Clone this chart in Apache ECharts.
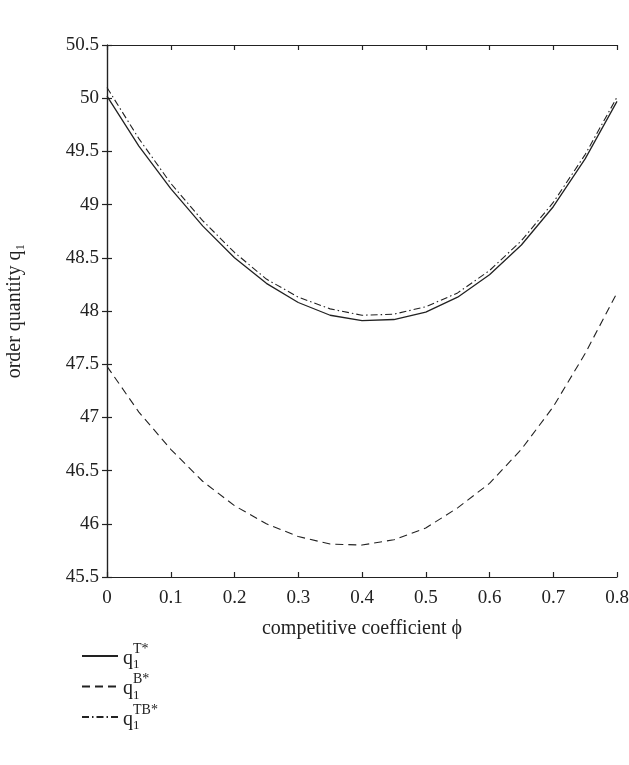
<!DOCTYPE html>
<html><head><meta charset="utf-8">
<script src="https://cdn.jsdelivr.net/npm/echarts@6/dist/echarts.min.js"></script>
<style>html,body{margin:0;padding:0;background:#fff}#c{width:629px;height:765px}</style>
</head><body><div id="c"></div>
<script>
const phi = [0,0.05,0.1,0.15,0.2,0.25,0.3,0.35,0.4,0.45,0.5,0.55,0.6,0.65,0.7,0.75,0.8];
const qT  = [50.02,49.55,49.15,48.8,48.5,48.26,48.08,47.96,47.91,47.92,47.99,48.13,48.34,48.62,48.98,49.43,49.97];
const qB  = [47.48,47.05,46.7,46.4,46.17,46.0,45.88,45.81,45.8,45.85,45.96,46.15,46.38,46.7,47.1,47.6,48.17];
const qTB = [50.1,49.62,49.2,48.85,48.55,48.3,48.13,48.02,47.96,47.97,48.04,48.17,48.38,48.66,49.02,49.47,50.01];
const seriesNames = ['T*','B*','TB*'];
const xTicks = {min:0,max:0.8,interval:0.1};
const yTicks = {min:45.5,max:50.5,interval:0.5};

const font = '"Liberation Serif","DejaVu Serif",serif';
const col = '#222';
const pairs = a => phi.map((x,i)=>[x,a[i]]);
const chart = echarts.init(document.getElementById('c'));
const axisCommon = {
  axisLine:{show:true,lineStyle:{color:col,width:1.2}},
  axisTick:{show:true,inside:true,length:5,lineStyle:{color:col,width:1.2}},
  splitLine:{show:false}
};
chart.setOption({
  animation:false,
  backgroundColor:'#fff',
  grid:{left:107,right:12,top:45,bottom:188,containLabel:false,outerBoundsMode:'none'},
  legend:{
    orient:'vertical',left:76,top:637,itemWidth:36,itemHeight:12,itemGap:1,
    data:seriesNames,
    itemStyle:{opacity:0},
    textStyle:{fontFamily:font,color:col,fontSize:19,
      rich:{q:{fontFamily:font,fontSize:20,color:col,lineHeight:14,verticalAlign:'bottom'},
            s:{fontFamily:font,fontSize:13,color:col,lineHeight:14,verticalAlign:'bottom',padding:[0,0,-3,0]},
            p:{fontFamily:font,fontSize:14,color:col,lineHeight:11,padding:[0,0,0,10]}}},
    formatter: n => '{p|' + n + '}\n{q|q}{s|1}'
  },
  xAxis:[
    Object.assign({type:'value',position:'bottom',min:xTicks.min,max:xTicks.max,interval:xTicks.interval,
      name:'competitive coefficient ϕ',nameLocation:'middle',nameGap:42,
      nameTextStyle:{fontFamily:font,fontSize:20,color:col},
      axisLabel:{fontFamily:font,fontSize:19,color:col,margin:12}},axisCommon),
    Object.assign({type:'value',position:'top',min:xTicks.min,max:xTicks.max,interval:xTicks.interval,
      axisLabel:{show:false}},axisCommon)
  ],
  yAxis:[
    Object.assign({type:'value',position:'left',min:yTicks.min,max:yTicks.max,interval:yTicks.interval,
      name:'order quantity q₁',nameLocation:'middle',nameGap:82,nameRotate:90,
      nameTextStyle:{fontFamily:font,fontSize:20,color:col},
      axisLabel:{fontFamily:font,fontSize:19,color:col,margin:8}},axisCommon),
    Object.assign({type:'value',position:'right',min:yTicks.min,max:yTicks.max,interval:yTicks.interval,
      axisLabel:{show:false}},axisCommon)
  ],
  series:[
    {name:'T*',type:'line',data:pairs(qT),showSymbol:false,symbol:'none',
      lineStyle:{color:col,width:1.3,type:'solid'},itemStyle:{color:col}},
    {name:'B*',type:'line',data:pairs(qB),showSymbol:false,symbol:'none',
      lineStyle:{color:col,width:1.1,type:[8,5]},itemStyle:{color:col}},
    {name:'TB*',type:'line',data:pairs(qTB),showSymbol:false,symbol:'none',
      lineStyle:{color:col,width:1.1,type:[7,3,1.5,3]},itemStyle:{color:col}}
  ]
});
</script></body></html>
